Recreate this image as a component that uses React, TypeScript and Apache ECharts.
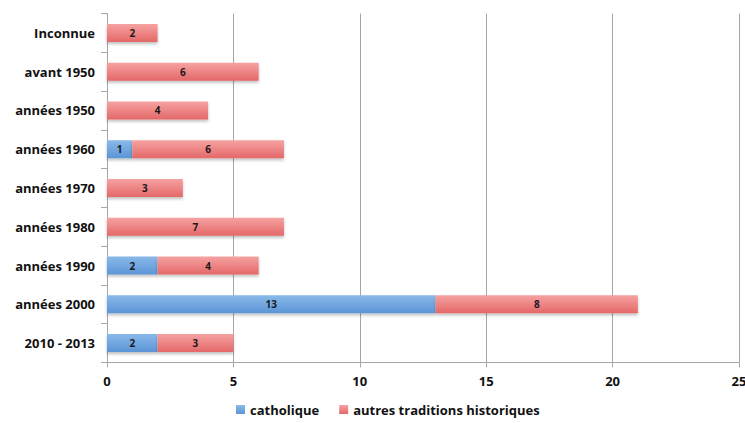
import React, { useEffect, useRef } from "react";
import * as echarts from "echarts";

const categories = [
  "Inconnue",
  "avant 1950",
  "années 1950",
  "années 1960",
  "années 1970",
  "années 1980",
  "années 1990",
  "années 2000",
  "2010 - 2013",
];
const catholique = [0, 0, 0, 1, 0, 0, 2, 13, 2];
const autres = [2, 6, 4, 6, 3, 7, 4, 8, 3];
const seriesNames = ["catholique", "autres traditions historiques"];

const FONT = "'Open Sans', 'Noto Sans', sans-serif";

function grad(top: string, bottom: string) {
  return new echarts.graphic.LinearGradient(0, 0, 0, 1, [
    { offset: 0, color: top },
    { offset: 1, color: bottom },
  ]);
}

export default function App() {
  const ref = useRef<HTMLDivElement>(null);
  useEffect(() => {
    if (!ref.current) return;
    const chart = echarts.init(ref.current, undefined, { renderer: "svg" });
    const label = {
      show: true,
      position: "inside",
      color: "#1a1a1a",
      fontWeight: "bold",
      fontSize: 10,
      fontFamily: FONT,
      formatter: (p: any) => (p.value ? String(p.value) : ""),
    };
    const shadow = {
      shadowBlur: 3,
      shadowOffsetY: 2,
      shadowColor: "rgba(0,0,0,0.25)",
    };
    chart.setOption({
      animation: false,
      grid: {
        left: 107,
        right: 6,
        top: 13.6,
        bottom: 60.6,
        containLabel: false,
        outerBoundsMode: "none",
      },
      legend: {
        bottom: 2,
        left: 231,
        itemWidth: 9,
        itemHeight: 9,
        itemGap: 20,
        icon: "rect",
        textStyle: { fontFamily: FONT, fontWeight: "bold", fontSize: 13, color: "#111" },
        data: seriesNames,
      },
      xAxis: {
        type: "value",
        min: 0,
        max: 25,
        interval: 5,
        axisLine: { show: true, lineStyle: { color: "#a6a6a6" } },
        axisTick: { show: true, length: 5, lineStyle: { color: "#a6a6a6" } },
        splitLine: { show: true, lineStyle: { color: "#a6a6a6" } },
        axisLabel: {
          fontFamily: FONT,
          fontWeight: "bold",
          fontSize: 13,
          color: "#111",
          margin: 12,
        },
      },
      yAxis: {
        type: "category",
        data: categories,
        inverse: true,
        axisLine: { show: true, lineStyle: { color: "#a6a6a6" } },
        axisTick: { show: true, length: 6, lineStyle: { color: "#a6a6a6" } },
        axisLabel: {
          fontFamily: FONT,
          fontWeight: "bold",
          fontSize: 13,
          color: "#111",
          margin: 12,
        },
      },
      series: [
        {
          name: seriesNames[0],
          type: "bar",
          stack: "total",
          barWidth: 18,
          data: catholique,
          itemStyle: { color: grad("#8ab9ea", "#5b95d6"), ...shadow },
          label,
        },
        {
          name: seriesNames[1],
          type: "bar",
          stack: "total",
          barWidth: 18,
          data: autres,
          itemStyle: { color: grad("#f6a2a2", "#e46868"), ...shadow },
          label,
        },
      ],
    });
    return () => chart.dispose();
  }, []);
  return <div ref={ref} style={{ width: 745, height: 423, position: "absolute", left: 0, top: 0 }} />;
}
